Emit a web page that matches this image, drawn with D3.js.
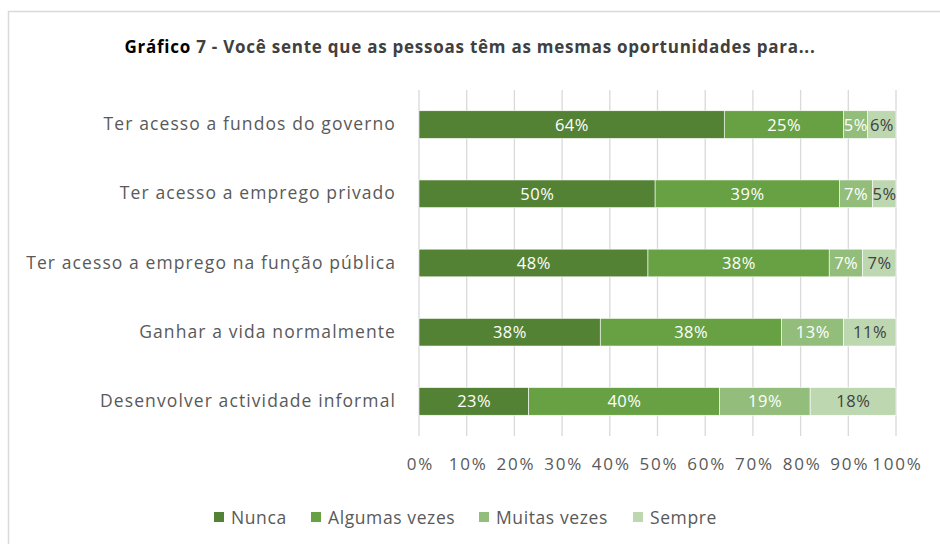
<!DOCTYPE html>
<html>
<head>
<meta charset="utf-8">
<script src="https://cdn.jsdelivr.net/npm/d3@7"></script>
<style>
  body { margin: 0; background: #fff; }
  text { font-family: "Open Sans", sans-serif; }
</style>
</head>
<body>
<script>
const categories = [
    "Ter acesso a fundos do governo",
    "Ter acesso a emprego privado",
    "Ter acesso a emprego na função pública",
    "Ganhar a vida normalmente",
    "Desenvolver actividade informal"
];
const seriesNames = ["Nunca", "Algumas vezes", "Muitas vezes", "Sempre"];
const nunca = [64, 50, 48, 38, 23];
const algumas = [25, 39, 38, 38, 40];
const muitas = [5, 7, 7, 13, 19];
const sempre = [6, 5, 7, 11, 18];
const ticks = [0, 0.1, 0.2, 0.3, 0.4, 0.5, 0.6, 0.7, 0.8, 0.9, 1];

const colors = ["#548235", "#68a143", "#93bd7b", "#bdd7b1"];
const labelColors = ["#ffffff", "#ffffff", "#ffffff", "#404040"];

const width = 940, height = 544;
const svg = d3.select("body").append("svg")
    .attr("width", width)
    .attr("height", height);

// chart border
svg.append("rect")
    .attr("x", 8.5).attr("y", 11.5)
    .attr("width", 960).attr("height", 560)
    .attr("fill", "none")
    .attr("stroke", "#d9d9d9")
    .attr("stroke-width", 1.5);

// title
let title = svg.append("text")
    .attr("x", 470).attr("y", 53)
    .attr("text-anchor", "middle")
    .style("font-size", "17px")
    .style("letter-spacing", "0.75px")
    .style("font-weight", "bold");
title.append("tspan").attr("fill", "#000").text("Gráfico");
title.append("tspan").attr("fill", "#404040").text(" 7 - Você sente que as pessoas têm as mesmas oportunidades para...");

const rows = categories.map((c, i) => ({
    cat: c, Nunca: nunca[i], "Algumas vezes": algumas[i], "Muitas vezes": muitas[i], Sempre: sempre[i]
}));
const stacked = d3.stack().keys(seriesNames).offset(d3.stackOffsetExpand)(rows);

const x = d3.scaleLinear().domain([0, 1]).range([419, 896]);
const y = d3.scaleBand().domain(categories).range([90, 436]).paddingInner(0.6).paddingOuter(0.3);

// gridlines
svg.append("g").selectAll("line")
    .data(ticks)
    .enter().append("line")
    .attr("x1", d => x(d)).attr("x2", d => x(d))
    .attr("y1", 90).attr("y2", 436)
    .attr("stroke", "#d9d9d9")
    .attr("stroke-width", 1.3);

// bars
let groups = svg.append("g").selectAll("g")
    .data(stacked)
    .enter().append("g")
    .attr("fill", (d, i) => colors[i]);

groups.selectAll("rect")
    .data(d => d)
    .enter().append("rect")
    .attr("x", d => x(d[0]))
    .attr("y", d => y(d.data.cat))
    .attr("width", d => x(d[1]) - x(d[0]))
    .attr("height", y.bandwidth())
    .attr("stroke", "#fff")
    .attr("stroke-width", 0.6);

// labels in bars
stacked.forEach((s, i) => {
    svg.append("g").selectAll("text")
        .data(s)
        .enter().append("text")
        .attr("x", d => (x(d[0]) + x(d[1])) / 2 + 0.3)
        .attr("y", d => y(d.data.cat) + y.bandwidth() / 2 + 6)
        .attr("text-anchor", "middle")
        .attr("fill", labelColors[i])
        .style("font-size", "16.5px")
        .style("letter-spacing", "0.5px")
        .text(d => d.data[s.key] + "%");
});

// x axis
let xAxis = d3.axisBottom(x)
    .tickValues(ticks)
    .tickFormat(d3.format(".0%"))
    .tickSize(0)
    .tickPadding(0);
let xg = svg.append("g").attr("transform", "translate(1, 458)").call(xAxis);
xg.select(".domain").remove();
xg.selectAll("text")
    .attr("fill", "#595959")
    .style("font-size", "17px")
    .style("letter-spacing", "1.8px")
    .style("font-family", "'Open Sans', sans-serif");

// y axis labels
let yAxis = d3.axisLeft(y).tickSize(0).tickPadding(0);
let yg = svg.append("g").attr("transform", "translate(396, 0)").call(yAxis);
yg.select(".domain").remove();
yg.selectAll("text")
    .attr("fill", "#595959")
    .style("font-size", "17.5px")
    .style("letter-spacing", "1.1px")
    .style("font-family", "'Open Sans', sans-serif");

// legend
const legendX = [214, 311, 479, 633];
let legend = svg.append("g").selectAll("g")
    .data(seriesNames)
    .enter().append("g")
    .attr("transform", (d, i) => `translate(${legendX[i]}, 512)`);
legend.append("rect")
    .attr("width", 10).attr("height", 10)
    .attr("fill", (d, i) => colors[i]);
legend.append("text")
    .attr("x", 17).attr("y", 11.5)
    .attr("fill", "#595959")
    .style("font-size", "17.5px")
    .style("letter-spacing", "0.6px")
    .text(d => d);
</script>
</body>
</html>
